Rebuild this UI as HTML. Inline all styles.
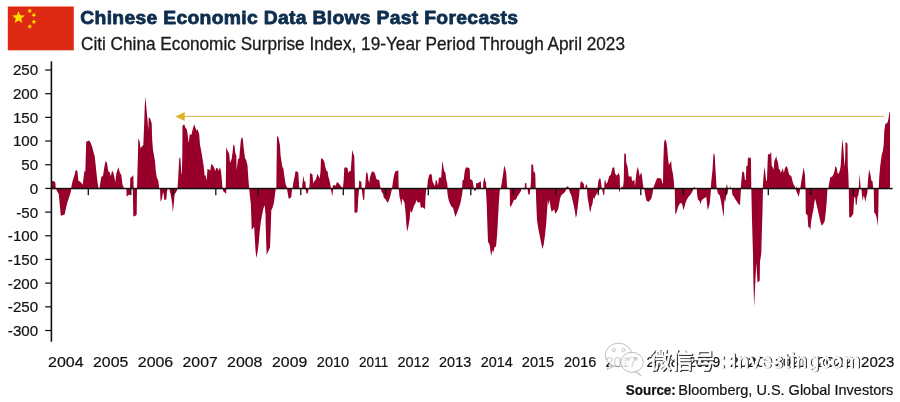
<!DOCTYPE html>
<html><head><meta charset="utf-8"><title>Chinese Economic Data Blows Past Forecasts</title>
<style>
html,body{margin:0;padding:0;background:#fff;}
body{width:900px;height:402px;overflow:hidden;font-family:"Liberation Sans",sans-serif;}
svg{display:block}
.ax{font-family:"Liberation Sans",sans-serif;font-size:15.1px;fill:#111;stroke:#111;stroke-width:0.2px;}
.ay{font-family:"Liberation Sans",sans-serif;font-size:15.4px;fill:#111;stroke:#111;stroke-width:0.2px;}
.ttl{font-family:"Liberation Sans",sans-serif;font-weight:bold;font-size:18.8px;fill:#0e2e4e;stroke:#0e2e4e;stroke-width:0.8px;letter-spacing:0.3px;stroke-linejoin:round;}
.sub{font-family:"Liberation Sans",sans-serif;font-size:17.7px;fill:#1a1a1a;stroke:#1a1a1a;stroke-width:0.3px;}
.src{font-family:"Liberation Sans",sans-serif;font-size:14.4px;fill:#111;stroke:#111;stroke-width:0.2px;}
.wm{font-family:"Liberation Sans","Noto Sans CJK SC",sans-serif;font-size:22px;fill:#fff;stroke:#fff;stroke-width:0.7px;}
.wms{font-family:"Liberation Sans","Noto Sans CJK SC",sans-serif;font-size:22px;fill:#222;stroke:#222;stroke-width:0.7px;}
</style></head><body>
<svg width="900" height="402" viewBox="0 0 900 402">
<rect width="900" height="402" fill="#fff"/>
<!-- flag -->
<rect x="7.8" y="6.5" width="66" height="43.8" fill="#de2a12"/>
<g fill="#ffdc00">
<polygon points="18.5,10.9 20.2,15.3 24.9,15.5 21.2,18.5 22.4,23.0 18.5,20.4 14.6,23.0 15.8,18.5 12.1,15.5 16.8,15.3"/>
<polygon points="27.5,12.2 28.6,10.8 27.8,9.2 29.4,9.8 30.7,8.6 30.7,10.3 32.2,11.1 30.6,11.7 30.3,13.4 29.2,12.0"/><polygon points="31.4,15.5 32.9,14.6 32.7,12.8 34.1,14.0 35.7,13.3 35.0,14.9 36.2,16.2 34.4,16.1 33.5,17.6 33.1,15.9"/><polygon points="31.4,21.1 33.2,20.9 33.8,19.3 34.5,20.8 36.3,20.9 35.0,22.1 35.5,23.8 34.0,22.9 32.5,23.9 32.8,22.2"/><polygon points="27.7,24.9 29.4,25.4 30.6,24.1 30.7,25.9 32.2,26.6 30.6,27.2 30.4,29.0 29.3,27.6 27.6,27.9 28.6,26.5"/>
</g>
<text x="80.3" y="23.5" class="ttl" textLength="438" lengthAdjust="spacingAndGlyphs">Chinese Economic Data Blows Past Forecasts</text>
<text x="81" y="49.7" class="sub" textLength="544" lengthAdjust="spacingAndGlyphs">Citi China Economic Surprise Index, 19-Year Period Through April 2023</text>
<!-- data -->
<path fill="#98002b" d="M51.3,188.5 L51.7,181.3 L53.3,181.0 L55.3,182.2 L55.8,188.5Z M70.8,188.5 L71.3,187.2 L72.5,181.3 L74.2,176.3 L75.8,169.7 L77.5,171.3 L78.3,180.5 L80.8,182.2 L82.8,184.7 L83.3,179.7 L84.5,170.5 L85.3,172.2 L86.2,141.7 L87.5,141.3 L89.2,140.5 L90.8,143.0 L92.5,148.0 L93.7,153.0 L94.7,156.3 L95.8,166.3 L97.0,178.0 L98.3,187.2 L99.2,188.5Z M99.5,188.5 L100.0,184.7 L101.3,176.7 L103.0,176.0 L104.2,168.0 L105.5,161.0 L107.0,163.0 L108.3,171.3 L109.7,172.2 L110.8,176.3 L112.0,171.0 L113.0,171.7 L114.2,176.3 L115.3,182.2 L116.3,173.8 L118.3,167.2 L120.0,173.0 L121.3,174.7 L122.5,184.7 L124.2,188.5Z M130.0,188.5 L130.3,178.0 L132.0,176.7 L133.3,175.0 L133.7,188.5Z M137.0,188.5 L137.5,169.7 L138.0,153.0 L138.3,138.3 L139.7,141.7 L140.5,148.3 L141.7,146.7 L143.3,145.0 L144.2,123.3 L144.7,106.7 L145.3,96.7 L146.3,106.7 L147.5,120.0 L148.3,130.0 L148.7,117.5 L150.0,118.3 L151.7,123.3 L152.2,140.0 L153.0,150.0 L153.7,153.8 L155.0,161.3 L155.8,171.3 L156.7,177.2 L158.3,180.5 L159.2,188.5Z M177.5,188.5 L178.3,176.3 L179.2,158.8 L180.3,157.2 L181.3,173.0 L181.8,174.7 L182.3,156.3 L182.5,125.8 L184.2,124.2 L185.3,127.5 L186.7,129.2 L187.5,133.3 L188.7,143.3 L189.7,134.2 L191.3,135.0 L193.0,128.3 L194.2,124.2 L195.3,127.5 L196.7,130.8 L197.5,129.2 L199.2,134.2 L200.0,144.7 L201.3,151.3 L202.5,158.8 L203.7,166.3 L204.7,176.3 L205.5,174.7 L206.7,180.5 L207.5,168.8 L209.2,169.7 L210.3,170.5 L211.3,163.8 L213.0,165.5 L214.2,168.0 L215.3,171.3 L216.3,167.7 L218.0,168.8 L218.8,171.3 L219.7,167.2 L220.8,169.7 L221.7,178.0 L222.5,188.5Z M225.8,188.5 L226.2,147.2 L227.5,150.5 L229.2,153.8 L230.0,163.0 L231.7,158.8 L232.8,150.5 L233.3,144.7 L234.5,145.5 L235.3,153.0 L236.3,155.5 L236.7,170.5 L238.0,158.8 L239.2,158.8 L240.0,149.7 L240.8,140.5 L241.7,137.2 L242.8,138.8 L243.7,148.0 L245.0,158.0 L246.3,160.5 L247.5,165.5 L248.3,178.0 L249.2,188.5Z M276.3,188.5 L276.7,156.3 L277.0,136.0 L278.3,137.2 L279.2,141.3 L280.0,145.5 L280.5,154.7 L281.7,163.0 L282.5,167.2 L283.3,168.0 L284.2,174.7 L285.0,180.5 L285.8,184.7 L287.0,187.2 L287.5,188.5Z M292.5,188.5 L293.3,183.0 L294.7,176.3 L295.5,171.3 L296.7,171.3 L298.3,172.7 L299.2,187.2 L299.7,188.5Z M302.0,188.5 L302.5,183.0 L303.3,175.5 L304.2,181.3 L305.3,181.3 L306.0,188.5Z M309.2,188.5 L309.7,183.0 L310.0,173.0 L311.3,173.8 L312.5,174.7 L313.3,183.8 L314.2,181.3 L315.8,179.7 L317.5,173.8 L318.7,176.3 L319.7,178.8 L320.5,171.3 L321.0,158.3 L322.5,158.8 L324.2,161.3 L325.0,165.5 L326.3,170.5 L327.5,171.3 L328.3,176.3 L329.7,181.3 L330.5,185.5 L331.0,188.5Z M332.5,188.5 L332.8,185.5 L334.7,185.0 L335.8,186.0 L336.7,182.2 L338.3,182.7 L339.7,184.7 L341.7,187.2 L343.0,187.3 L343.7,179.7 L344.3,167.7 L345.8,167.2 L347.5,168.0 L348.3,173.0 L349.2,171.3 L350.0,171.3 L350.8,170.5 L351.7,158.0 L352.3,149.7 L353.3,153.8 L354.3,156.3 L354.7,173.0 L355.0,188.5Z M358.7,188.5 L359.2,180.5 L360.3,181.3 L361.3,181.7 L361.7,188.5Z M365.0,188.5 L365.8,178.0 L366.3,172.2 L367.5,173.0 L368.3,179.7 L369.2,183.0 L370.0,177.2 L371.3,173.0 L372.5,171.3 L374.2,172.2 L375.3,174.7 L376.3,178.8 L377.5,179.7 L379.2,180.0 L380.0,184.7 L380.7,188.5Z M392.0,188.5 L393.0,181.3 L394.2,174.7 L395.3,171.3 L396.7,171.0 L398.3,170.2 L398.7,188.5Z M427.0,188.5 L428.0,179.7 L429.2,175.0 L430.8,173.8 L431.7,174.7 L432.5,181.3 L434.2,184.7 L435.0,186.3 L435.8,179.7 L436.7,180.5 L438.0,185.5 L438.8,178.0 L440.0,177.2 L441.2,177.7 L442.0,166.3 L442.5,160.5 L443.3,166.3 L444.2,171.3 L445.3,172.2 L446.3,179.7 L447.2,183.0 L447.7,188.5Z M462.0,188.5 L462.5,180.5 L463.7,179.7 L464.7,171.3 L465.8,167.7 L467.5,167.2 L468.7,168.0 L469.7,168.8 L470.0,178.8 L471.3,179.7 L472.5,180.5 L473.7,187.2 L474.2,188.5Z M475.8,188.5 L476.2,183.0 L477.5,183.3 L479.2,182.2 L480.8,181.3 L481.3,188.5Z M483.0,188.5 L483.3,182.2 L484.5,176.7 L485.3,181.3 L486.0,182.2 L486.5,188.5Z M500.8,188.5 L501.7,183.0 L503.0,174.7 L504.2,165.5 L505.3,168.8 L506.3,173.0 L507.0,186.3 L507.7,188.5Z M524.7,188.5 L525.0,183.3 L526.3,183.0 L526.7,188.5Z M530.3,188.5 L531.0,181.3 L531.3,164.7 L533.0,164.3 L533.8,173.0 L534.7,171.3 L535.3,174.7 L535.7,188.5Z M565.3,188.5 L566.7,186.7 L568.0,186.3 L569.2,188.5Z M580.0,188.5 L580.5,182.2 L581.7,181.3 L583.0,183.3 L583.8,183.8 L584.3,188.5Z M585.3,188.5 L585.8,184.7 L587.0,184.7 L587.5,188.5Z M597.5,188.5 L598.3,181.3 L599.5,178.3 L600.5,178.8 L601.3,184.7 L601.8,188.5Z M604.2,188.5 L604.5,181.3 L605.3,179.7 L606.0,183.8 L607.5,182.2 L609.2,176.3 L610.8,174.7 L612.5,167.7 L614.2,167.2 L615.0,173.0 L616.3,175.5 L617.5,174.7 L618.7,172.7 L619.7,176.3 L620.0,188.5Z M621.0,188.5 L621.7,186.3 L623.0,187.3 L623.7,181.3 L624.3,153.8 L625.8,153.5 L626.3,163.0 L627.5,166.3 L628.7,176.3 L630.0,176.7 L631.3,176.0 L632.2,181.3 L633.3,180.5 L634.3,179.7 L635.0,186.3 L635.8,178.0 L636.7,171.3 L637.8,166.7 L638.8,171.3 L639.7,176.3 L640.5,173.8 L641.3,172.2 L642.2,178.0 L643.0,184.7 L643.7,188.5Z M653.0,188.5 L654.2,185.5 L655.8,181.3 L657.0,178.3 L659.2,178.0 L661.3,178.8 L662.5,183.8 L663.0,183.0 L663.3,163.0 L664.0,143.0 L665.0,139.3 L666.2,141.3 L667.2,148.0 L668.0,158.0 L668.8,164.7 L670.0,163.0 L671.2,161.0 L671.7,168.0 L672.8,173.0 L673.7,179.7 L674.3,188.5Z M693.0,188.5 L694.2,186.8 L695.3,188.5Z M710.8,188.5 L711.3,181.3 L712.5,169.7 L713.3,156.3 L713.8,152.7 L714.7,155.5 L715.3,166.3 L716.0,178.0 L716.7,188.5Z M725.8,188.5 L727.0,183.8 L727.7,188.5Z M729.7,188.5 L730.3,185.5 L730.8,188.5Z M740.8,188.5 L741.3,181.3 L742.2,172.2 L743.0,171.3 L744.2,173.0 L745.0,180.5 L745.8,179.7 L746.3,166.3 L747.5,165.5 L748.0,157.2 L749.2,158.0 L750.3,157.2 L751.0,159.7 L751.3,188.5Z M762.7,188.5 L763.3,179.7 L763.8,173.0 L764.5,166.7 L765.3,173.0 L766.2,181.3 L767.0,179.7 L767.5,164.7 L768.0,153.8 L769.2,154.7 L770.0,153.8 L771.2,152.2 L771.7,165.5 L773.0,167.7 L773.7,169.7 L774.3,161.3 L775.3,158.8 L776.2,156.3 L777.0,159.7 L778.0,162.2 L778.8,168.8 L780.0,169.7 L780.8,172.7 L782.0,170.5 L782.8,168.0 L783.8,173.0 L785.0,168.0 L786.3,166.0 L787.5,168.0 L788.3,171.3 L789.2,174.7 L790.3,175.5 L791.3,176.0 L792.5,181.3 L793.7,184.7 L794.7,186.0 L795.3,188.5Z M796.3,188.5 L796.7,185.5 L797.2,188.5Z M800.3,188.5 L801.3,181.3 L802.2,176.3 L803.0,171.3 L803.5,167.2 L804.3,171.3 L805.0,174.7 L805.5,188.5Z M828.3,188.5 L829.2,183.0 L830.3,177.2 L832.0,176.7 L833.3,174.7 L834.5,171.3 L835.3,166.3 L836.7,167.7 L837.5,173.0 L838.7,173.8 L840.0,169.7 L840.8,164.7 L841.7,148.0 L842.5,138.8 L843.3,148.0 L844.2,161.3 L844.7,167.2 L845.2,156.3 L845.5,142.2 L846.7,142.7 L847.5,143.8 L847.8,166.3 L848.3,173.0 L848.8,188.5Z M858.7,188.5 L859.2,179.7 L859.5,173.8 L860.0,179.7 L860.7,188.5Z M867.5,188.5 L868.0,179.7 L868.7,173.0 L869.3,169.3 L870.0,173.0 L870.8,176.3 L871.3,180.5 L872.5,181.3 L873.3,188.5Z M878.7,188.5 L879.2,178.0 L880.0,168.0 L880.8,161.3 L881.7,154.7 L882.8,151.3 L883.7,144.7 L884.3,130.8 L885.3,124.2 L887.5,122.5 L888.3,120.0 L889.5,111.7 L890.0,112.5 L890.0,188.5Z M55.8,188.5 L57.5,192.0 L58.7,193.7 L59.7,203.7 L60.8,215.7 L62.5,215.3 L64.7,214.5 L65.8,208.7 L67.5,202.0 L69.2,197.0 L70.8,192.0 L71.3,188.5Z M126.3,188.5 L126.7,196.7 L128.3,195.3 L130.0,194.5 L130.8,188.5Z M132.8,188.5 L133.3,216.2 L135.0,216.2 L136.7,214.5 L137.0,188.5Z M160.0,188.5 L160.5,201.7 L162.0,198.7 L163.0,192.0 L163.8,195.3 L164.3,200.0 L166.3,199.5 L167.0,191.2 L167.7,188.5Z M168.7,188.5 L169.7,190.3 L170.8,195.3 L172.2,203.7 L172.8,212.3 L173.7,205.3 L174.7,193.7 L175.8,192.8 L177.0,190.3 L177.5,188.5Z M222.5,188.5 L223.3,191.2 L225.0,192.8 L226.2,194.0 L226.3,188.5Z M249.2,188.5 L250.0,197.0 L250.8,203.7 L251.3,217.0 L251.7,230.0 L253.0,228.3 L254.2,226.7 L254.7,236.7 L255.5,250.0 L256.3,258.0 L257.5,252.5 L258.7,243.3 L259.7,231.7 L260.8,222.0 L262.0,215.3 L263.3,208.7 L264.7,205.3 L265.5,213.7 L265.8,230.0 L266.3,245.0 L266.7,255.0 L268.0,251.7 L270.0,247.5 L270.7,230.0 L271.3,210.3 L272.5,207.8 L273.7,203.7 L274.7,197.0 L275.3,192.0 L275.8,188.5Z M287.0,188.5 L287.8,193.7 L288.7,198.7 L290.0,198.3 L291.3,197.0 L292.0,188.5Z M305.3,188.5 L306.7,193.7 L307.8,193.3 L308.7,188.5Z M330.8,188.5 L332.2,196.2 L332.8,192.0 L333.3,188.5Z M354.2,188.5 L354.5,212.8 L355.8,212.8 L357.5,212.0 L358.3,197.0 L359.2,188.5Z M361.7,188.5 L362.5,195.3 L363.3,200.3 L364.3,199.5 L364.7,188.5Z M380.8,188.5 L381.7,192.0 L383.0,193.7 L383.8,197.8 L385.8,199.5 L387.0,202.0 L388.0,202.8 L389.2,199.5 L390.3,196.2 L391.3,192.0 L392.0,188.5Z M398.7,188.5 L399.5,197.0 L400.5,200.3 L401.3,206.2 L402.2,198.7 L403.3,200.3 L404.5,202.8 L405.5,212.0 L406.3,223.7 L407.2,231.7 L408.3,227.0 L409.7,218.7 L410.3,210.3 L411.3,212.8 L412.0,212.0 L413.0,208.7 L414.2,205.3 L415.3,203.7 L416.3,200.0 L417.5,202.0 L418.7,202.8 L420.0,202.0 L420.8,207.8 L422.5,207.3 L424.2,208.3 L425.0,209.5 L425.5,197.0 L426.3,188.5Z M447.0,188.5 L447.7,195.3 L448.7,200.3 L450.0,203.7 L451.7,207.0 L453.0,207.8 L454.2,212.0 L455.3,217.0 L456.7,213.7 L458.0,210.3 L459.2,207.0 L460.3,203.7 L461.3,198.7 L462.2,193.7 L462.8,188.5Z M473.7,188.5 L474.7,191.2 L475.8,190.3 L476.3,188.5Z M485.8,188.5 L486.7,203.7 L487.5,228.7 L488.0,241.7 L489.7,245.0 L490.5,251.7 L491.3,255.8 L492.5,250.0 L493.3,252.5 L494.7,246.7 L496.0,246.7 L497.2,233.7 L498.0,218.7 L498.8,203.7 L499.5,193.7 L500.0,188.5Z M509.7,188.5 L510.0,207.0 L511.7,205.3 L513.0,202.0 L514.2,199.5 L515.3,200.3 L516.3,198.7 L517.5,196.2 L519.2,193.7 L520.8,191.2 L521.7,188.5Z M523.3,188.5 L524.2,190.0 L525.3,188.5Z M527.5,188.5 L528.3,194.5 L529.7,194.5 L530.3,188.5Z M535.8,188.5 L536.3,203.7 L537.0,220.3 L538.3,228.7 L540.0,237.0 L541.3,243.7 L542.5,249.0 L543.7,244.5 L545.0,235.3 L546.2,223.7 L547.2,208.7 L547.8,200.3 L548.7,205.3 L549.7,199.5 L550.5,207.0 L551.7,212.0 L553.0,210.3 L554.2,209.5 L555.3,213.7 L556.7,212.0 L558.3,208.7 L559.2,203.7 L560.0,198.7 L561.3,195.3 L563.0,193.7 L565.0,192.0 L566.7,188.5Z M568.7,188.5 L569.7,192.0 L571.3,195.3 L572.5,200.3 L573.7,205.3 L575.0,212.0 L575.8,217.8 L576.7,215.3 L577.5,208.7 L578.3,202.0 L579.2,195.3 L579.7,188.5Z M587.0,188.5 L587.5,197.0 L588.7,203.7 L589.7,210.3 L590.5,212.3 L591.3,207.0 L592.5,203.7 L593.3,197.0 L594.2,199.5 L595.3,196.2 L596.7,193.7 L598.3,191.2 L600.0,189.5 L600.8,188.5Z M602.0,188.5 L603.3,195.3 L604.2,194.5 L604.7,188.5Z M618.7,188.5 L619.5,192.8 L620.3,188.5Z M644.2,188.5 L645.0,193.7 L646.3,200.3 L648.3,202.0 L650.0,200.3 L651.3,198.7 L652.5,193.7 L653.3,188.5Z M674.7,188.5 L675.3,214.5 L676.7,212.0 L678.0,207.0 L679.7,203.7 L681.3,202.8 L682.5,205.3 L683.3,210.3 L684.7,206.2 L685.8,202.0 L687.0,199.5 L688.3,197.0 L690.0,195.3 L691.7,192.8 L693.0,190.3 L693.7,188.5Z M696.7,188.5 L697.2,195.3 L698.0,199.5 L699.7,201.2 L700.5,204.5 L701.7,200.3 L703.3,198.7 L705.0,197.8 L706.3,197.0 L707.0,203.7 L707.7,210.3 L708.7,207.0 L709.7,203.7 L710.5,195.3 L711.0,188.5Z M716.7,188.5 L718.0,193.7 L719.7,195.3 L720.8,200.3 L722.0,207.0 L723.0,213.7 L723.7,217.0 L724.2,203.7 L724.7,198.7 L725.3,202.0 L726.2,195.3 L727.5,193.7 L728.3,188.5Z M731.7,188.5 L732.5,195.3 L733.7,196.2 L735.0,198.7 L736.7,201.2 L738.3,203.7 L740.0,205.3 L740.5,197.0 L741.0,188.5Z M751.3,188.5 L752.0,220.3 L753.0,255.0 L753.3,278.3 L754.2,306.7 L755.2,285.0 L756.3,262.5 L757.5,282.5 L759.7,280.8 L760.0,261.7 L761.3,253.3 L761.7,237.0 L762.5,212.0 L763.0,188.5Z M795.3,188.5 L796.7,192.0 L797.8,194.5 L798.7,197.0 L799.7,192.0 L800.3,188.5Z M805.5,188.5 L805.8,213.7 L807.5,215.3 L808.3,227.0 L809.7,227.8 L810.3,230.3 L811.3,220.3 L812.5,213.7 L813.3,210.3 L814.2,203.7 L815.0,198.7 L815.8,201.2 L816.7,205.3 L818.3,212.0 L820.0,220.3 L821.7,225.7 L823.3,223.7 L824.7,221.2 L825.8,212.0 L826.7,202.0 L827.5,188.5Z M848.8,188.5 L849.2,217.0 L850.3,217.8 L851.7,216.2 L853.3,213.7 L854.2,197.0 L855.3,197.8 L855.8,205.3 L856.7,204.5 L857.5,197.0 L858.3,195.3 L859.2,190.3 L859.7,188.5Z M861.3,188.5 L862.0,195.3 L862.7,201.2 L863.7,195.3 L864.7,198.7 L865.3,202.0 L866.3,197.0 L867.2,193.7 L867.7,188.5Z M873.7,188.5 L874.2,212.8 L875.3,213.7 L876.3,216.2 L877.0,220.3 L877.7,226.2 L878.3,212.0 L878.7,188.5Z"/>
<!-- axes -->
<rect x="50.6" y="61.3" width="1.6" height="280.4" fill="#111"/>
<rect x="50.6" y="187.8" width="842" height="1.5" fill="#111"/>
<rect x="87.65" y="188" width="1.3" height="7.2" fill="#111"/><rect x="130.15" y="188" width="1.3" height="7.2" fill="#111"/><rect x="172.65" y="188" width="1.3" height="7.2" fill="#111"/><rect x="215.15" y="188" width="1.3" height="7.2" fill="#111"/><rect x="257.65" y="188" width="1.3" height="7.2" fill="#111"/><rect x="300.15" y="188" width="1.3" height="7.2" fill="#111"/><rect x="342.65" y="188" width="1.3" height="7.2" fill="#111"/><rect x="385.15" y="188" width="1.3" height="7.2" fill="#111"/><rect x="427.65" y="188" width="1.3" height="7.2" fill="#111"/><rect x="470.15" y="188" width="1.3" height="7.2" fill="#111"/><rect x="512.65" y="188" width="1.3" height="7.2" fill="#111"/><rect x="555.15" y="188" width="1.3" height="7.2" fill="#111"/><rect x="597.65" y="188" width="1.3" height="7.2" fill="#111"/><rect x="640.15" y="188" width="1.3" height="7.2" fill="#111"/><rect x="682.65" y="188" width="1.3" height="7.2" fill="#111"/><rect x="725.15" y="188" width="1.3" height="7.2" fill="#111"/><rect x="767.65" y="188" width="1.3" height="7.2" fill="#111"/><rect x="810.15" y="188" width="1.3" height="7.2" fill="#111"/><rect x="852.65" y="188" width="1.3" height="7.2" fill="#111"/><rect x="45.2" y="69.38" width="6" height="1.25" fill="#111"/><text transform="translate(38.2,75.45) scale(0.985,1)" text-anchor="end" class="ay">250</text><rect x="45.2" y="93.06" width="6" height="1.25" fill="#111"/><text transform="translate(38.2,99.13) scale(0.985,1)" text-anchor="end" class="ay">200</text><rect x="45.2" y="116.74" width="6" height="1.25" fill="#111"/><text transform="translate(38.2,122.81) scale(0.985,1)" text-anchor="end" class="ay">150</text><rect x="45.2" y="140.42" width="6" height="1.25" fill="#111"/><text transform="translate(38.2,146.49) scale(0.985,1)" text-anchor="end" class="ay">100</text><rect x="45.2" y="164.10" width="6" height="1.25" fill="#111"/><text transform="translate(38.2,170.17) scale(0.985,1)" text-anchor="end" class="ay">50</text><rect x="45.2" y="187.78" width="6" height="1.25" fill="#111"/><text transform="translate(38.2,193.85) scale(0.985,1)" text-anchor="end" class="ay">0</text><rect x="45.2" y="211.46" width="6" height="1.25" fill="#111"/><text transform="translate(38.2,217.53) scale(0.985,1)" text-anchor="end" class="ay">-50</text><rect x="45.2" y="235.14" width="6" height="1.25" fill="#111"/><text transform="translate(38.2,241.21) scale(0.985,1)" text-anchor="end" class="ay">-100</text><rect x="45.2" y="258.82" width="6" height="1.25" fill="#111"/><text transform="translate(38.2,264.89) scale(0.985,1)" text-anchor="end" class="ay">-150</text><rect x="45.2" y="282.50" width="6" height="1.25" fill="#111"/><text transform="translate(38.2,288.57) scale(0.985,1)" text-anchor="end" class="ay">-200</text><rect x="45.2" y="306.18" width="6" height="1.25" fill="#111"/><text transform="translate(38.2,312.25) scale(0.985,1)" text-anchor="end" class="ay">-250</text><rect x="45.2" y="329.86" width="6" height="1.25" fill="#111"/><text transform="translate(38.2,335.93) scale(0.985,1)" text-anchor="end" class="ay">-300</text>
<!-- arrow -->
<rect x="184" y="115.85" width="700" height="1.1" fill="#d9b95c"/>
<polygon points="175.2,116.4 184.7,111.9 184.7,120.9" fill="#e3b12e"/>
<text x="48.1" y="367.4" class="ax" textLength="35.5" lengthAdjust="spacingAndGlyphs">2004</text><text x="93.1" y="367.4" class="ax" textLength="35.1" lengthAdjust="spacingAndGlyphs">2005</text><text x="137.8" y="367.4" class="ax" textLength="35.4" lengthAdjust="spacingAndGlyphs">2006</text><text x="182.6" y="367.4" class="ax" textLength="35.1" lengthAdjust="spacingAndGlyphs">2007</text><text x="227.1" y="367.4" class="ax" textLength="35.3" lengthAdjust="spacingAndGlyphs">2008</text><text x="272.1" y="367.4" class="ax" textLength="35.1" lengthAdjust="spacingAndGlyphs">2009</text><text x="316.8" y="367.4" class="ax" textLength="32.4" lengthAdjust="spacingAndGlyphs">2010</text><text x="359.1" y="367.4" class="ax" textLength="29.1" lengthAdjust="spacingAndGlyphs">2011</text><text x="397.4" y="367.4" class="ax" textLength="32.2" lengthAdjust="spacingAndGlyphs">2012</text><text x="439.1" y="367.4" class="ax" textLength="32.1" lengthAdjust="spacingAndGlyphs">2013</text><text x="480.8" y="367.4" class="ax" textLength="32.1" lengthAdjust="spacingAndGlyphs">2014</text><text x="521.8" y="367.4" class="ax" textLength="32.4" lengthAdjust="spacingAndGlyphs">2015</text><text x="564.1" y="367.4" class="ax" textLength="32.1" lengthAdjust="spacingAndGlyphs">2016</text><text x="605.6" y="367.4" class="ax" textLength="31.3" lengthAdjust="spacingAndGlyphs">2017</text><text x="646.6" y="367.4" class="ax" textLength="32.1" lengthAdjust="spacingAndGlyphs">2018</text><text x="688.1" y="367.4" class="ax" textLength="32.1" lengthAdjust="spacingAndGlyphs">2019</text><text x="730.1" y="367.4" class="ax" textLength="35.3" lengthAdjust="spacingAndGlyphs">2020</text><text x="775.1" y="367.4" class="ax" textLength="32.1" lengthAdjust="spacingAndGlyphs">2021</text><text x="817.1" y="367.4" class="ax" textLength="35.1" lengthAdjust="spacingAndGlyphs">2022</text><text x="861.1" y="367.4" class="ax" textLength="33.3" lengthAdjust="spacingAndGlyphs">2023</text>
<!-- watermark -->
<g opacity="0.9">
<ellipse cx="618.5" cy="355" rx="13.2" ry="11.8" fill="#fff" fill-opacity="0.9" stroke="#999" stroke-width="0.7"/>
<path d="M610,364.5 L607,369.5 L614,366.5 Z" fill="#fff" fill-opacity="0.9" stroke="#999" stroke-width="0.6"/>
<circle cx="613.8" cy="350" r="1.6" fill="#fff" stroke="#999" stroke-width="0.6"/><circle cx="623.5" cy="350" r="1.6" fill="#fff" stroke="#999" stroke-width="0.6"/>
<ellipse cx="632" cy="362.3" rx="11.3" ry="10" fill="#fff" fill-opacity="0.92" stroke="#999" stroke-width="0.7"/>
<path d="M637,371 L641,375.5 L634.5,372 Z" fill="#fff" fill-opacity="0.92" stroke="#999" stroke-width="0.6"/>
<circle cx="628" cy="359" r="1.3" fill="#fff" stroke="#999" stroke-width="0.6"/><circle cx="636" cy="359" r="1.3" fill="#fff" stroke="#999" stroke-width="0.6"/>
</g>
<g class="wms" transform="translate(1,0.9)">
<text x="649.5" y="368.3" textLength="65.5" lengthAdjust="spacingAndGlyphs">微信号</text>
<text x="720" y="367.5" style="font-size:20px">:</text>
<text x="731" y="367.5" style="font-size:20px;letter-spacing:1.0px">Investingcom</text>
</g>
<g class="wm">
<text x="649.5" y="368.3" textLength="65.5" lengthAdjust="spacingAndGlyphs">微信号</text>
<text x="720" y="367.5" style="font-size:20px">:</text>
<text x="731" y="367.5" style="font-size:20px;letter-spacing:1.0px">Investingcom</text>
</g>
<!-- source -->
<text x="625.8" y="394.6" class="src" font-weight="bold" textLength="50" lengthAdjust="spacingAndGlyphs">Source:</text>
<text x="678.3" y="394.6" class="src" textLength="215" lengthAdjust="spacingAndGlyphs">Bloomberg, U.S. Global Investors</text>
</svg>
</body></html>
